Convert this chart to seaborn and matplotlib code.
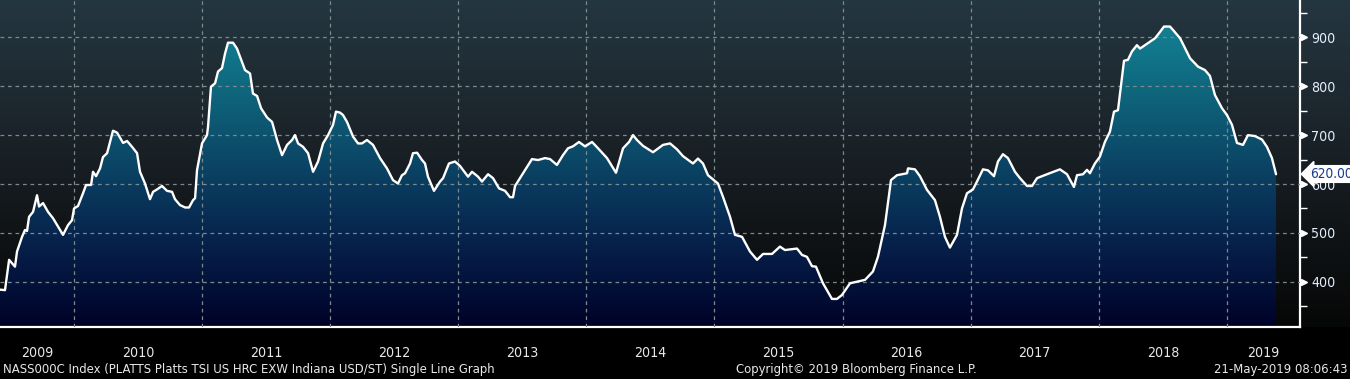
import numpy as np
import pandas as pd
import matplotlib
matplotlib.use('Agg')
import matplotlib.pyplot as plt
import matplotlib.transforms as mtransforms
from matplotlib import font_manager
from matplotlib.colors import LinearSegmentedColormap
import seaborn as sns

# Datos (anio decimal, USD/ST)
years = [2009.422, 2009.461, 2009.493, 2009.539, 2009.555, 2009.594, 2009.617, 2009.633,
         2009.649, 2009.680, 2009.711, 2009.727, 2009.758, 2009.797, 2009.836, 2009.875,
         2009.914, 2009.953, 2009.984, 2010.000, 2010.031, 2010.070, 2010.094, 2010.133,
         2010.148, 2010.172, 2010.203, 2010.226, 2010.258, 2010.304, 2010.336, 2010.383,
         2010.414, 2010.453, 2010.492, 2010.515, 2010.554, 2010.593, 2010.617, 2010.648,
         2010.687, 2010.726, 2010.765, 2010.788, 2010.827, 2010.867, 2010.898, 2010.929,
         2010.945, 2010.960, 2010.999, 2011.038, 2011.046, 2011.069, 2011.101, 2011.124,
         2011.155, 2011.179, 2011.202, 2011.241, 2011.272, 2011.311, 2011.335, 2011.374,
         2011.397, 2011.429, 2011.460, 2011.507, 2011.546, 2011.585, 2011.624, 2011.663,
         2011.702, 2011.725, 2011.749, 2011.788, 2011.827, 2011.866, 2011.905, 2011.944,
         2011.983, 2012.022, 2012.045, 2012.077, 2012.100, 2012.131, 2012.178, 2012.217,
         2012.248, 2012.287, 2012.334, 2012.389, 2012.443, 2012.490, 2012.529, 2012.560,
         2012.584, 2012.623, 2012.646, 2012.678, 2012.717, 2012.740, 2012.763, 2012.810,
         2012.857, 2012.881, 2012.927, 2012.974, 2013.013, 2013.076, 2013.107, 2013.154,
         2013.185, 2013.232, 2013.271, 2013.318, 2013.365, 2013.404, 2013.427, 2013.443,
         2013.505, 2013.575, 2013.622, 2013.677, 2013.716, 2013.770, 2013.817, 2013.856,
         2013.895, 2013.942, 2013.989, 2014.044, 2014.091, 2014.161, 2014.231, 2014.286,
         2014.333, 2014.364, 2014.395, 2014.442, 2014.520, 2014.598, 2014.653, 2014.707,
         2014.754, 2014.832, 2014.871, 2014.910, 2014.949, 2015.027, 2015.066, 2015.121,
         2015.160, 2015.215, 2015.277, 2015.332, 2015.379, 2015.449, 2015.511, 2015.550,
         2015.644, 2015.683, 2015.722, 2015.761, 2015.792, 2015.847, 2015.917, 2015.956,
         2015.995, 2016.058, 2016.175, 2016.237, 2016.276, 2016.331, 2016.378, 2016.425,
         2016.503, 2016.511, 2016.565, 2016.604, 2016.659, 2016.721, 2016.760, 2016.799,
         2016.838, 2016.893, 2016.932, 2016.971, 2017.018, 2017.049, 2017.096, 2017.135,
         2017.182, 2017.213, 2017.252, 2017.291, 2017.346, 2017.385, 2017.440, 2017.479,
         2017.518, 2017.596, 2017.697, 2017.752, 2017.806, 2017.830, 2017.877, 2017.908,
         2017.931, 2017.970, 2018.009, 2018.048, 2018.087, 2018.119, 2018.150, 2018.197,
         2018.228, 2018.259, 2018.298, 2018.322, 2018.384, 2018.439, 2018.478, 2018.509,
         2018.556, 2018.580, 2018.635, 2018.713, 2018.775, 2018.829, 2018.868, 2018.907,
         2018.962, 2019.001, 2019.040, 2019.079, 2019.126, 2019.165, 2019.219, 2019.274,
         2019.313, 2019.352, 2019.384]
prices = [384, 383, 445, 431, 462, 492, 506, 504,
          533, 543, 577, 554, 561, 543, 530, 513,
          496, 516, 526, 550, 555, 581, 598, 598,
          625, 616, 632, 655, 663, 709, 705, 684,
          688, 676, 663, 625, 601, 569, 584, 589,
          596, 586, 584, 569, 557, 552, 552, 567,
          571, 628, 683, 700, 717, 799, 806, 830,
          837, 867, 889, 889, 877, 850, 833, 826,
          785, 780, 755, 736, 727, 690, 659, 680,
          690, 700, 683, 676, 663, 625, 646, 683,
          700, 721, 748, 746, 741, 727, 697, 683,
          683, 690, 680, 653, 632, 608, 601, 618,
          622, 642, 663, 664, 649, 642, 615, 586,
          605, 612, 642, 646, 637, 615, 625, 615,
          605, 620, 612, 591, 586, 573, 573, 596,
          622, 651, 649, 653, 651, 639, 659, 673,
          677, 686, 677, 686, 673, 653, 623, 673,
          686, 700, 690, 678, 665, 680, 683, 671,
          657, 642, 652, 642, 618, 601, 574, 533,
          496, 492, 462, 445, 457, 457, 472, 465,
          468, 455, 451, 432, 431, 397, 365, 365,
          373, 397, 404, 421, 451, 516, 608, 618,
          622, 632, 630, 616, 588, 567, 533, 492,
          470, 496, 550, 581, 589, 605, 630, 628,
          616, 646, 661, 653, 625, 612, 596, 596,
          612, 620, 630, 620, 594, 618, 620, 629,
          622, 642, 656, 686, 707, 748, 751, 852,
          854, 871, 884, 877, 888, 898, 911, 922,
          922, 915, 898, 857, 840, 833, 821, 782,
          755, 741, 721, 684, 680, 700, 698, 691,
          676, 653, 620]

year_labels = ['2009', '2010', '2011', '2012', '2013', '2014', '2015', '2016', '2017', '2018', '2019']
y_ticks = [400, 500, 600, 700, 800, 900]
last_value = '620.00'
title_txt = 'NASS000C Index (PLATTS Platts TSI US HRC EXW Indiana USD/ST) Single Line Graph'
copy_txt = 'Copyright\u00a9 2019 Bloomberg Finance L.P.'
stamp_txt = '21-May-2019 08:06:43'

df = pd.DataFrame({'year': years, 'price': prices})

sns.set_theme(style='dark')
plt.rcParams['font.family'] = ['DejaVu Sans']

# fuente estrecha si existe (DejaVu Sans Condensed), si no se reduce el tamanio
condensed = any(f.name == 'DejaVu Sans' and f.stretch == 'condensed'
                for f in font_manager.fontManager.ttflist)
if condensed:
    plt.rcParams['font.stretch'] = 'condensed'
    k = 1.0
else:
    k = 0.86

W, H = 1350, 379
x0, x1 = 2009.422, 2019.571
y0, y1 = 307.6, 976.3

fig = plt.figure(figsize=(W / 100, H / 100), dpi=100)
fig.patch.set_facecolor('black')

# fondo degradado
bg = fig.add_axes([0, 0, 1, 1], zorder=0)
bg_cmap = LinearSegmentedColormap.from_list('bg', ['#060707', '#121619', '#1d272e', '#243640'])
grad = np.linspace(0, 1, 256).reshape(-1, 1)
bg.imshow(grad, extent=[0, 1, 1 - 327 / H, 1], origin='lower', aspect='auto', cmap=bg_cmap)
bg.set_xlim(0, 1)
bg.set_ylim(0, 1)
bg.axis('off')

ax = fig.add_axes([0, 1 - 327 / H, 1300 / W, 327 / H], zorder=1)
ax.set_facecolor('none')

# area con degradado
poly = ax.fill_between(years, prices, y0, color='none', lw=0)
fill_cmap = LinearSegmentedColormap.from_list('fill', ['#000228', '#06204a', '#0b4565', '#0f6a80', '#168a9b'])
img = ax.imshow(grad, extent=[x0, x1, y0, y1], origin='lower', aspect='auto', cmap=fill_cmap, zorder=2)
img.set_clip_path(poly.get_paths()[0], transform=ax.transData)

sns.lineplot(data=df, x='year', y='price', color='white', lw=1.7, ax=ax, zorder=4)

ax.set_xlim(x0, x1)
ax.set_ylim(y0, y1)
ax.set_xlabel('')
ax.set_ylabel('')

# rejilla
for yr in range(2010, 2020):
    ax.axvline(yr, color='#7a8a8c', lw=0.9, ls=(0, (3, 3)), zorder=3)
for v in y_ticks:
    ax.axhline(v, color='#7a8a8c', lw=0.9, ls=(0, (3, 3)), zorder=3)

for s in ['top', 'left']:
    ax.spines[s].set_visible(False)
for s in ['right', 'bottom']:
    ax.spines[s].set_visible(True)
    ax.spines[s].set_color('white')
    ax.spines[s].set_linewidth(1.6)

# eje y derecho
ax.yaxis.tick_right()
ax.set_yticks(y_ticks)
ax.set_yticklabels([str(v) for v in y_ticks], color='#e4eeff', fontsize=10.2 * k)
ax.set_yticks(np.arange(350, 1000, 100), minor=True)
ax.tick_params(axis='y', which='major', length=0, pad=8)
ax.tick_params(axis='y', which='minor', length=5, width=1, color='white', direction='out')
ax.plot([1.0028] * len(y_ticks), y_ticks, marker='>', ls='none', color='white', ms=4.5,
        transform=ax.get_yaxis_transform(), clip_on=False, zorder=5)

# eje x
ax.set_xticks(range(2010, 2020))
ax.set_xticklabels([])
ax.set_xticks(np.arange(2009.5, 2019.6, 0.25), minor=True)
ax.tick_params(axis='x', which='major', length=36, width=1, color='#8a8a8a', direction='out')
ax.tick_params(axis='x', which='minor', length=4, width=1, color='white', direction='out')

trans = mtransforms.blended_transform_factory(ax.transData, fig.transFigure)
edges = [x0] + list(range(2010, 2020)) + [x1]
for i, lab in enumerate(year_labels):
    ax.text((edges[i] + edges[i + 1]) / 2, 1 - 353 / H, lab, transform=trans,
            ha='center', va='center', color='#e8e8e8', fontsize=10.2 * k)

# etiqueta ultimo valor
ax.annotate(last_value, xy=(1.0, 620), xycoords=ax.get_yaxis_transform(),
            xytext=(1310 / W, 1 - 174 / H), textcoords='figure fraction',
            ha='left', va='center', fontsize=9.8 * k, color='#1a3a8c',
            bbox=dict(boxstyle='larrow,pad=0.1', fc='white', ec='white'),
            annotation_clip=False, zorder=6)

fig.text(3 / W, 1 - 370 / H, title_txt, ha='left', va='center', color='#e8e8e8', fontsize=9.4 * k)
fig.text(856 / W, 1 - 370 / H, copy_txt, ha='center', va='center', color='#e8e8e8', fontsize=9.4 * k)
fig.text(1347 / W, 1 - 370 / H, stamp_txt, ha='right', va='center', color='#e8e8e8', fontsize=9.4 * k)

plt.savefig('out.png', dpi=100, facecolor=fig.get_facecolor())
